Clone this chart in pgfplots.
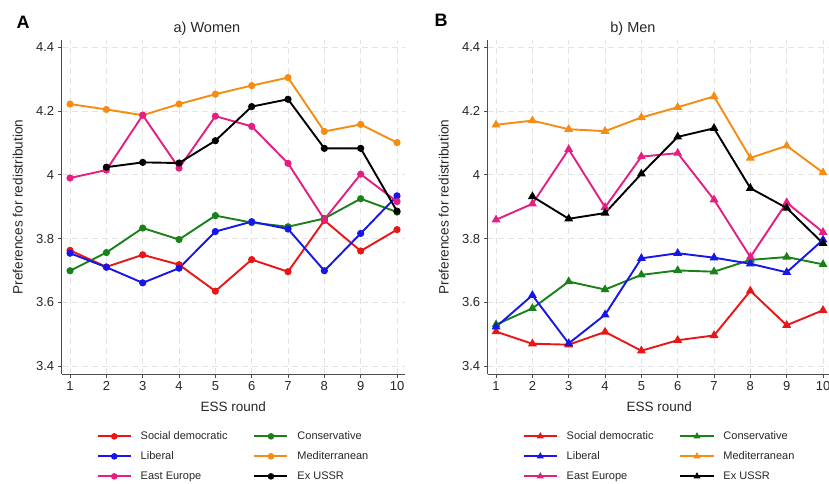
\documentclass[border=0pt]{standalone}
\usepackage{fontspec}
\setmainfont{Liberation Sans}
\usepackage{pgfplots}
\pgfplotsset{compat=1.18}
\definecolor{sdred}{RGB}{232,22,22}
\definecolor{libblue}{RGB}{22,22,232}
\definecolor{conGreen}{RGB}{26,128,26}
\definecolor{medOrange}{RGB}{245,140,20}
\definecolor{eePink}{RGB}{228,30,130}
\tikzset{ln/.style={line width=1.9pt}}
\pgfplotsset{
 panel/.style={
  width=343.3pt, height=334pt, scale only axis,
  xmin=0.77, xmax=10.22, ymin=3.375, ymax=4.423,
  xtick={1,...,10}, ytick={3.4,3.6,3.8,4,4.2,4.4},
  axis x line*=bottom, axis y line*=left,
  axis line style={gray!60!black, line width=0.8pt},
  tick style={gray!60!black, line width=0.8pt},
  tick align=outside, major tick length=4pt,
  grid=major, major grid style={gray!22, dash pattern=on 6pt off 4pt, line width=0.8pt},
  ticklabel style={font=\fontsize{13}{15}\selectfont, text=black!85},
  /pgf/number format/assume math mode=true,
  xlabel={ESS round},
  xlabel style={at={(axis description cs:0.5,-0.099)}, anchor=center, font=\fontsize{13.5}{15}\selectfont, text=black!85},
  ylabel={Preferences for redistribution},
  ylabel style={at={(axis description cs:-0.128,0.5)}, anchor=center, font=\fontsize{13.6}{15}\selectfont, text=black!85},
  title style={at={(axis description cs:0.423,1.015)}, anchor=center, font=\fontsize{14.5}{16}\selectfont, text=black!85},
  legend cell align=left,
  legend image code/.code={\draw[##1, line width=1.9pt, mark size=2.3pt, mark repeat=2, mark phase=2] plot coordinates {(0pt,0pt) (16.5pt,0pt) (33pt,0pt)};},
  legend style={at={(axis description cs:0.093,-0.1647)}, anchor=north west, draw=none, fill=none,
    font=\fontsize{11}{13}\selectfont, text=black!85,
    /tikz/column sep=9pt, /tikz/column 2/.style={column sep=26pt}, /tikz/row sep=9.7pt,
    nodes={inner sep=0pt, text height=8pt, text depth=2.3pt}},
  legend columns=2,
 },
}
\begin{document}
\begin{tikzpicture}[x=1pt,y=1pt]
\begin{axis}[panel, at={(61.7pt,109pt)}, anchor=south west, title={a) Women}]
\addplot[ln, sdred, mark=*, mark size=2.6pt] coordinates {(1,3.763) (2,3.711) (3,3.749) (4,3.718) (5,3.635) (6,3.734) (7,3.696) (8,3.857) (9,3.761) (10,3.828)};
\addlegendentry{Social democratic}
\addplot[ln, conGreen, mark=*, mark size=2.6pt] coordinates {(1,3.699) (2,3.756) (3,3.833) (4,3.797) (5,3.872) (6,3.850) (7,3.837) (8,3.863) (9,3.925) (10,3.883)};
\addlegendentry{Conservative}
\addplot[ln, libblue, mark=*, mark size=2.6pt] coordinates {(1,3.754) (2,3.710) (3,3.661) (4,3.707) (5,3.822) (6,3.853) (7,3.830) (8,3.699) (9,3.816) (10,3.934)};
\addlegendentry{Liberal}
\addplot[ln, medOrange, mark=*, mark size=2.6pt] coordinates {(1,4.222) (2,4.205) (3,4.187) (4,4.222) (5,4.253) (6,4.280) (7,4.305) (8,4.136) (9,4.158) (10,4.101)};
\addlegendentry{Mediterranean}
\addplot[ln, eePink, mark=*, mark size=2.6pt] coordinates {(1,3.990) (2,4.015) (3,4.187) (4,4.021) (5,4.184) (6,4.152) (7,4.036) (8,3.860) (9,4.002) (10,3.916)};
\addlegendentry{East Europe}
\addplot[ln, black, mark=*, mark size=2.6pt] coordinates {(2,4.024) (3,4.039) (4,4.037) (5,4.107) (6,4.214) (7,4.237) (8,4.083) (9,4.083) (10,3.886)};
\addlegendentry{Ex USSR}
\end{axis}
\begin{axis}[panel, at={(487.7pt,109pt)}, anchor=south west, title={b) Men}]
\addplot[ln, sdred, mark=triangle*, mark size=3.3pt] coordinates {(1,3.508) (2,3.470) (3,3.467) (4,3.507) (5,3.448) (6,3.481) (7,3.496) (8,3.636) (9,3.528) (10,3.575)};
\addlegendentry{Social democratic}
\addplot[ln, conGreen, mark=triangle*, mark size=3.3pt] coordinates {(1,3.530) (2,3.581) (3,3.665) (4,3.640) (5,3.686) (6,3.700) (7,3.696) (8,3.733) (9,3.742) (10,3.719)};
\addlegendentry{Conservative}
\addplot[ln, libblue, mark=triangle*, mark size=3.3pt] coordinates {(1,3.523) (2,3.622) (3,3.471) (4,3.561) (5,3.738) (6,3.754) (7,3.740) (8,3.721) (9,3.694) (10,3.796)};
\addlegendentry{Liberal}
\addplot[ln, medOrange, mark=triangle*, mark size=3.3pt] coordinates {(1,4.157) (2,4.170) (3,4.143) (4,4.137) (5,4.180) (6,4.212) (7,4.246) (8,4.053) (9,4.091) (10,4.007)};
\addlegendentry{Mediterranean}
\addplot[ln, eePink, mark=triangle*, mark size=3.3pt] coordinates {(1,3.859) (2,3.909) (3,4.080) (4,3.898) (5,4.057) (6,4.068) (7,3.922) (8,3.742) (9,3.913) (10,3.820)};
\addlegendentry{East Europe}
\addplot[ln, black, mark=triangle*, mark size=3.3pt] coordinates {(2,3.932) (3,3.862) (4,3.880) (5,4.003) (6,4.119) (7,4.146) (8,3.958) (9,3.896) (10,3.785)};
\addlegendentry{Ex USSR}
\end{axis}
\node[font=\fontsize{18}{20}\selectfont\bfseries] at (23pt,461pt) {A};
\node[font=\fontsize{18}{20}\selectfont\bfseries] at (441pt,463pt) {B};
\pgfresetboundingbox
\path[use as bounding box] (0pt,0pt) rectangle (829pt,483pt);
\end{tikzpicture}
\end{document}
